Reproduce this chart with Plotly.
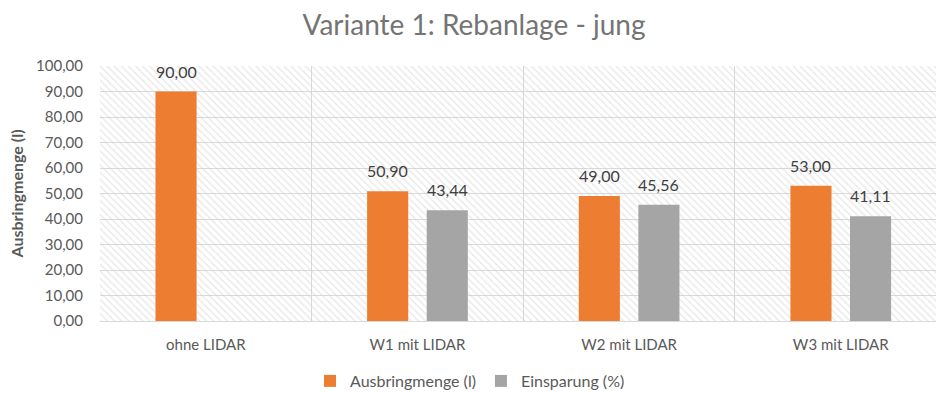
import plotly.graph_objects as go

# Chart data
categories = ["ohne LIDAR", "W1 mit LIDAR", "W2 mit LIDAR", "W3 mit LIDAR"]
ausbringmenge = [90.00, 50.90, 49.00, 53.00]
einsparung = [None, 43.44, 45.56, 41.11]
y_max = 100

series_names = ["Ausbringmenge (l)", "Einsparung (%)"]
series_colors = ["#ED7D31", "#A5A5A5"]

FONT = "Lato, 'Open Sans', sans-serif"
TEXT_GRAY = "#595959"
GRID = "#D9D9D9"

WIDTH, HEIGHT = 936, 393
MARGIN_L, MARGIN_R = 100, 0
X_RANGE = [-0.5, 3.45]
BARGAP, BARGROUPGAP = 0.437, 0.31

fig = go.Figure()

# Hatched plot-area background (one full-width slab per category)
fig.add_trace(go.Bar(
    x=categories,
    y=[y_max] * len(categories),
    width=1,
    xaxis="x", yaxis="y",
    marker=dict(
        color="rgba(0,0,0,0)",
        line=dict(width=0),
        pattern=dict(shape="\\", fgcolor="#CFCFCF", size=5, solidity=0.25),
    ),
    hoverinfo="skip",
    showlegend=False,
))

# Data bars on an overlaying axis so they sit above the hatch
all_series = [ausbringmenge, einsparung]
for name, vals, col in zip(series_names, all_series, series_colors):
    fig.add_trace(go.Bar(
        x=categories,
        y=vals,
        name=name,
        xaxis="x2", yaxis="y",
        marker=dict(color=col, line=dict(width=0)),
    ))

# Value labels above each bar, offset to each bar's slot within its group
cat_px = (WIDTH - MARGIN_L - MARGIN_R) / (X_RANGE[1] - X_RANGE[0])
slot_px = cat_px * (1 - BARGAP) / len(all_series)
annotations = []
for i, vals in enumerate(all_series):
    offset = (i - (len(all_series) - 1) / 2) * slot_px
    for cat, v in zip(categories, vals):
        if v is None:
            continue
        annotations.append(dict(
            x=cat, xref="x2", y=v, yref="y",
            text=f"{v:.2f}".replace(".", ","),
            showarrow=False,
            xanchor="center", yanchor="bottom",
            xshift=offset, yshift=9,
            font=dict(family=FONT, size=16, color="#404040"),
        ))

fig.update_layout(
    width=WIDTH, height=HEIGHT,
    margin=dict(l=MARGIN_L, r=MARGIN_R, t=66, b=72, autoexpand=False),
    paper_bgcolor="white",
    plot_bgcolor="white",
    separators=",.",
    barmode="group",
    bargap=BARGAP,
    bargroupgap=BARGROUPGAP,
    font=dict(family=FONT, color=TEXT_GRAY),
    annotations=annotations,
    title=dict(
        text="Variante 1: Rebanlage - jung",
        x=474 / WIDTH, xref="container", xanchor="center",
        y=1 - 25 / HEIGHT, yref="container", yanchor="middle",
        font=dict(family=FONT, size=28, color="#747474"),
    ),
    xaxis=dict(
        type="category",
        categoryorder="array", categoryarray=categories,
        range=X_RANGE,
        tickson="boundaries",
        showgrid=True, gridcolor=GRID, gridwidth=1,
        ticks="", ticklen=0,
        showline=True, linecolor=GRID, linewidth=1,
        tickfont=dict(family=FONT, size=15, color=TEXT_GRAY),
        ticklabelstandoff=10,
        zeroline=False,
    ),
    xaxis2=dict(
        type="category",
        categoryorder="array", categoryarray=categories,
        range=X_RANGE,
        overlaying="x",
        visible=False,
    ),
    yaxis=dict(
        range=[0, y_max],
        dtick=10,
        tickformat=".2f",
        showgrid=True, gridcolor=GRID, gridwidth=1,
        zeroline=False,
        ticks="",
        tickfont=dict(family=FONT, size=15, color=TEXT_GRAY),
        ticklabelstandoff=16,
        title=dict(
            text="<b>Ausbringmenge (l)</b>",
            font=dict(family=FONT, size=16, color=TEXT_GRAY),
            standoff=8,
        ),
    ),
    legend=dict(
        orientation="h",
        xref="container", x=470 / WIDTH, xanchor="center",
        yref="container", y=1 - 381 / HEIGHT, yanchor="middle",
        font=dict(family=FONT, size=16, color=TEXT_GRAY),
        itemwidth=30,
        traceorder="normal",
    ),
)

fig.write_html("out.html")
